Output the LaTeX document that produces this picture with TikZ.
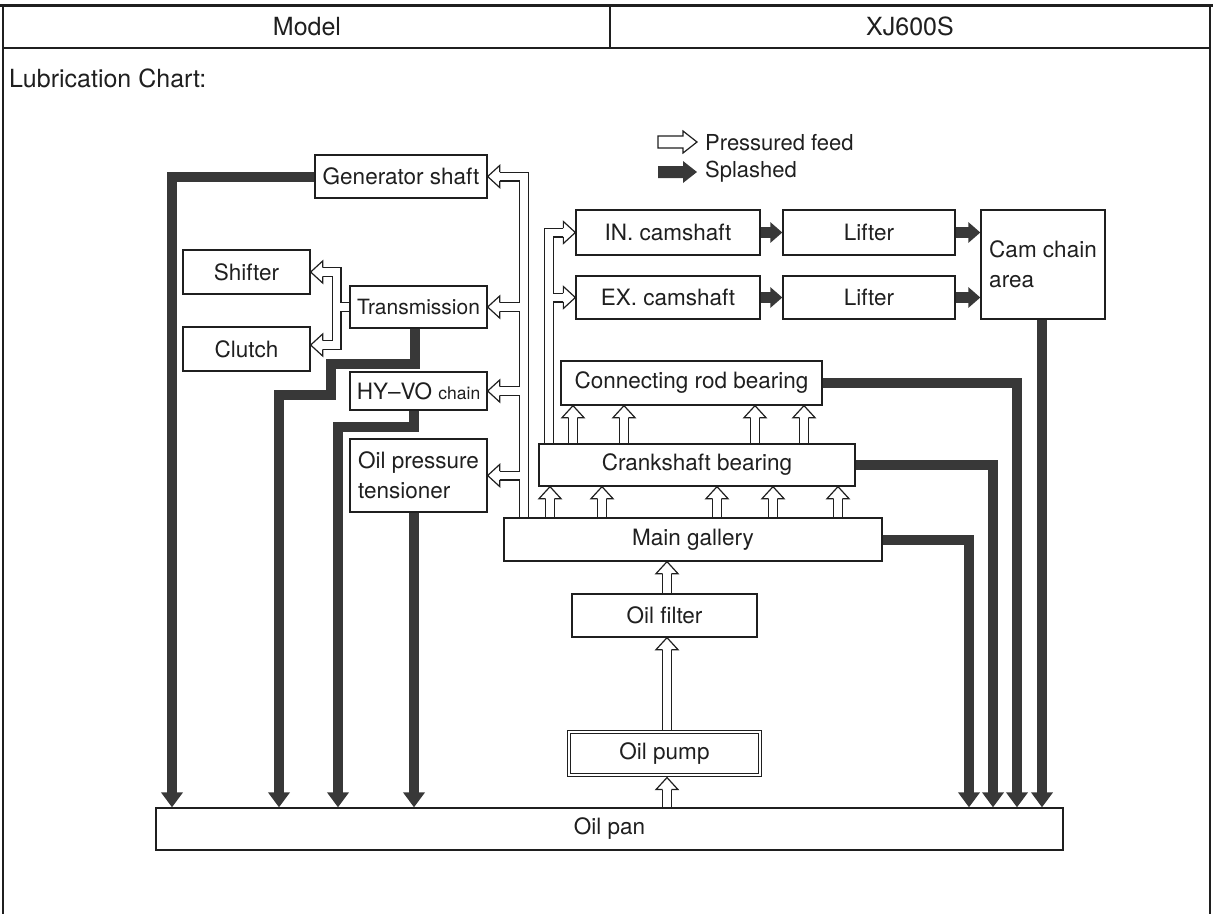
\documentclass[tikz,border=0pt]{standalone}
\usepackage{fontspec}
\setmainfont{TeX Gyre Heros}
\usetikzlibrary{calc,arrows.meta}
\pgfdeclarelayer{bg}
\pgfsetlayers{bg,main}
\definecolor{ink}{gray}{0.12}
\definecolor{splashc}{gray}{0.22}
\newcommand\headU[1]{\filldraw[head] ($(#1)+(-4.4,12)$) -- ($(#1)+(-11,12)$) -- (#1) -- ($(#1)+(11,12)$) -- ($(#1)+(4.4,12)$);}
\newcommand\headL[1]{\filldraw[head] ($(#1)+(12,-4.4)$) -- ($(#1)+(12,-11)$) -- (#1) -- ($(#1)+(12,11)$) -- ($(#1)+(12,4.4)$);}
\newcommand\headR[1]{\filldraw[head] ($(#1)+(-12,-4.4)$) -- ($(#1)+(-12,-11)$) -- (#1) -- ($(#1)+(-12,11)$) -- ($(#1)+(-12,4.4)$);}
\newcommand\pipenet[1]{%
  \draw[#1] ($(gen.east)+(12,0)$) -- (524,0 |- gen.east) -- (524,0 |- gal.north);
  \draw[#1] ($(trans.east)+(12,0)$) -- (524,0 |- trans.east);
  \draw[#1] ($(hyvo.east)+(12,0)$) -- (524,0 |- hyvo.east);
  \draw[#1] ($(tens.east)+(12,0)$) -- (524,0 |- tens.east);
  \draw[#1] ($(incam.west)+(-12,0)$) -- (549,0 |- incam.west) -- (549,0 |- crank.north);
  \draw[#1] ($(excam.west)+(-12,0)$) -- (549,0 |- excam.west);
  \draw[#1] ($(shif.east)+(12,0)$) -| (336.5,0 |- clutin) -- ($(clutin)+(12,0)$);
  \draw[#1] (trans.west) -- (336.5,0 |- trans.west);
  \foreach \x in {550,602,717,773,838}{\draw[#1] (\x,0 |- gal.north) -- ($(\x,0 |- crank.south)+(0,12)$);}
  \foreach \x in {573,624,755,804}{\draw[#1] (\x,0 |- crank.north) -- ($(\x,0 |- rod.south)+(0,12)$);}
  \draw[#1] (667,0 |- filt.north) -- ($(667,0 |- gal.south)+(0,12)$);
  \draw[#1] (667,0 |- pump.north) -- ($(667,0 |- filt.south)+(0,12)$);
  \draw[#1] (667,0 |- pan.north) -- ($(pumpin)+(0,12)$);
}
\begin{document}
\begin{tikzpicture}[x=1pt,y=-1pt,
  box/.style={draw=ink, line width=1.3pt, fill=white, inner sep=0pt, text=ink,
    font=\fontsize{22.5}{30}\selectfont},
  lbl/.style={inner sep=0pt, text=ink, font=\fontsize{25}{28}\selectfont},
  pipeB/.style={line width=10pt, draw=ink},
  pipeW/.style={line width=7.6pt, draw=white},
  head/.style={fill=white, draw=ink, line width=1.2pt, line join=miter},
  splash/.style={line width=10pt, draw=splashc, -{Triangle[width=21pt,length=15pt]}},
  splashs/.style={line width=11pt, draw=splashc, -{Triangle[width=20pt,length=12pt]}}]
\useasboundingbox (0,0) rectangle (1213,914);
% frame
\draw[ink, line width=3pt] (0,5) -- (1213,5);
\draw[ink, line width=2pt] (3,4) -- (3,914);
\draw[ink, line width=2pt] (1210,4) -- (1210,914);
\draw[ink, line width=2pt] (3,48) -- (1210,48);
\draw[ink, line width=1.5pt] (610,5) -- (610,48);
\node[lbl] (model) at (307,27) {Model};
\node[lbl] (xj) at (910,26) {XJ600S};
\node[lbl, anchor=west] (title) at (9,78) {Lubrication Chart:};
% legend
\filldraw[head] (658,136) -- (683,136) -- (683,131) -- (697,142) -- (683,153) -- (683,148) -- (658,148) -- cycle;
\fill[splashc] (658,166) -- (683,166) -- (683,161) -- (697,172) -- (683,183) -- (683,178) -- (658,178) -- cycle;
\node[lbl, anchor=west, font=\fontsize{22}{24}\selectfont] (lgf) at (705,143) {Pressured feed};
\node[lbl, anchor=west, font=\fontsize{22}{24}\selectfont] (lgs) at (705,172) {Splashed};
% boxes
\node[box, minimum width=172pt, minimum height=43pt] (gen) at (401,176.5) {Generator shaft};
\node[box, minimum width=127pt, minimum height=44pt] (shif) at (246.5,272) {Shifter};
\node[box, minimum width=127pt, minimum height=44pt] (clut) at (246.5,349) {Clutch};
\node[box, minimum width=137pt, minimum height=42pt, font=\fontsize{21}{24}\selectfont] (trans) at (418.5,307) {Transmission};
\node[box, minimum width=137pt, minimum height=38pt] (hyvo) at (418.5,391) {HY--VO {\fontsize{17.5}{20}\selectfont chain}};
\node[box, minimum width=137pt, minimum height=73pt, align=left] (tens) at (418.5,475.5) {Oil pressure\\tensioner};
\node[box, minimum width=184pt, minimum height=45pt] (incam) at (668,232.5) {IN. camshaft};
\node[box, minimum width=184pt, minimum height=43pt] (excam) at (668,297.5) {EX. camshaft};
\node[box, minimum width=172pt, minimum height=45pt] (lif1) at (869,232.5) {Lifter};
\node[box, minimum width=172pt, minimum height=43pt] (lif2) at (869,297.5) {Lifter};
\node[box, minimum width=124pt, minimum height=109pt, align=left] (cam) at (1043,264.5) {Cam chain\\area};
\node[box, minimum width=261pt, minimum height=44pt] (rod) at (691.5,383) {Connecting rod bearing};
\node[box, minimum width=316pt, minimum height=42pt] (crank) at (697,465) {Crankshaft bearing};
\node[box, minimum width=378pt, minimum height=43pt] (gal) at (693,539.5) {Main gallery};
\node[box, minimum width=185pt, minimum height=43pt] (filt) at (664.5,615.5) {Oil filter};
\node[box, line width=1.1pt, double=white, double distance=2pt, minimum width=190.8pt, minimum height=42.8pt] (pump) at (664.5,753.5) {Oil pump};
\node[box, minimum width=907pt, minimum height=42pt] (pan) at (609.5,829) {Oil pan};
\coordinate (clutin) at ($(clut.east)+(0,-4)$);
\coordinate (pumpin) at ($(667,0 |- pump.south)+(0,2.1)$);
\begin{pgfonlayer}{bg}
  \pipenet{pipeB}
  \pipenet{pipeW}
  \headL{gen.east} \headL{trans.east} \headL{hyvo.east} \headL{tens.east}
  \headR{incam.west} \headR{excam.west}
  \headL{shif.east} \headL{clutin}
  \foreach \x in {550,602,717,773,838}{\headU{\x,0 |- crank.south}}
  \foreach \x in {573,624,755,804}{\headU{\x,0 |- rod.south}}
  \headU{667,0 |- gal.south}
  \headU{667,0 |- filt.south}
  \headU{pumpin}
  % splashed
  \draw[splash] (gen.west) -| (172,0 |- pan.north);
  \draw[splash] (415,0 |- trans.south) |- (331,364) |- (279,395) -- (279,0 |- pan.north);
  \draw[splash] (414,0 |- hyvo.south) |- (338,427) -- (338,0 |- pan.north);
  \draw[splash] (414,0 |- tens.south) -- (414,0 |- pan.north);
  \draw[splash] (rod.east) -| (1017,0 |- pan.north);
  \draw[splash] (crank.east) -| (993,0 |- pan.north);
  \draw[splash] (gal.east) -| (969,0 |- pan.north);
  \draw[splash] (1042,0 |- cam.south) -- (1042,0 |- pan.north);
  \draw[splashs] (incam.east) -- (lif1.west);
  \draw[splashs] (excam.east) -- (lif2.west);
  \draw[splashs] (lif1.east) -- (lif1.east -| cam.west);
  \draw[splashs] (lif2.east) -- (lif2.east -| cam.west);
\end{pgfonlayer}
\end{tikzpicture}
\end{document}
